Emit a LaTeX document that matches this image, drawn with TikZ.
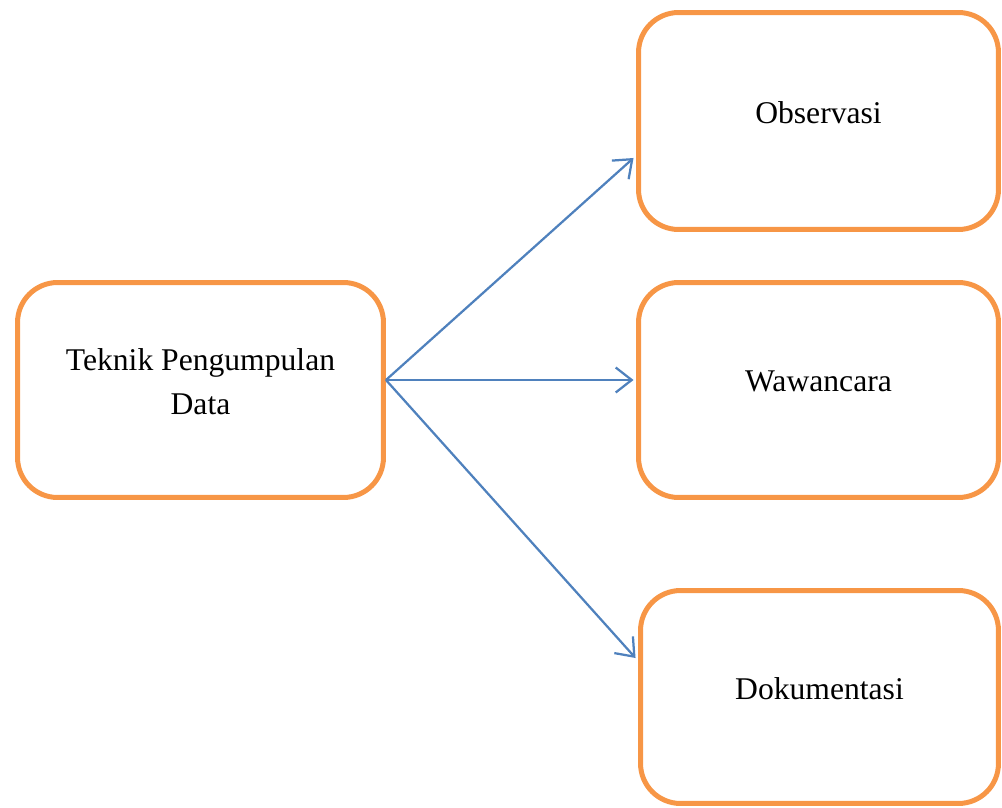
\documentclass[tikz,border=0pt]{standalone}
\usepackage{fontspec}
\setmainfont{Liberation Serif}
\usetikzlibrary{arrows.meta}
\definecolor{boxorange}{RGB}{247,150,70}
\definecolor{arrowblue}{RGB}{79,129,189}
\tikzset{
  box/.style={rectangle, rounded corners=0.8cm, draw=boxorange, line width=0.1cm,
    align=center, text depth=0.34cm, font=\fontsize{18}{25.5}\selectfont},
  link/.style={draw=arrowblue, line width=0.045cm, -{Straight Barb[length=0.32cm,width=0.5cm]}}
}

\begin{document}
\begin{tikzpicture}[x=0.02cm,y=-0.02cm]
    \useasboundingbox (0,0) rectangle (1002,808);

    \node at (200.5,390) [box, minimum width=7.32cm, minimum height=4.3cm] (tpd) {Teknik Pengumpulan\\Data};
    \node at (818.5,121) [box, minimum width=7.2cm, minimum height=4.34cm] (obs) {Observasi};
    \node at (818.5,390) [box, minimum width=7.2cm, minimum height=4.3cm] (waw) {Wawancara};
    \node at (819.5,697) [box, minimum width=7.16cm, minimum height=4.26cm] (dok) {Dokumentasi};

    \coordinate (src) at ([yshift=0.2cm]tpd.east);

    \draw[link] (src) -- ([yshift=-0.74cm,xshift=-0.05cm]obs.west);
    \draw[link] (src) -- ([yshift=0.2cm,xshift=-0.05cm]waw.west);
    \draw[link] (src) -- ([yshift=0.78cm,xshift=-0.05cm]dok.west);

\end{tikzpicture}
\end{document}
